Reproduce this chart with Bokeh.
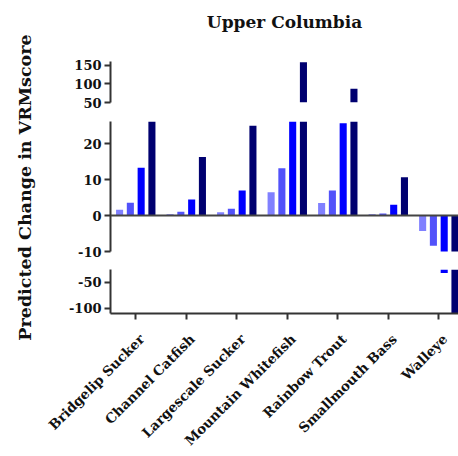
import numpy as np
from math import pi
from bokeh.plotting import figure
from bokeh.layouts import row, column
from bokeh.models import Range1d, FixedTicker, Span
from bokeh.core.properties import value
from bokeh.embed import file_html
from bokeh.resources import INLINE

# ---- data ----
categories = ["Bridgelip Sucker", "Channel Catfish", "Largescale Sucker",
              "Mountain Whitefish", "Rainbow Trout", "Smallmouth Bass", "Walleye"]
series1 = [1.6, 0.4, 0.9, 6.5, 3.5, 0.4, -4.3]
series2 = [3.6, 1.1, 1.9, 13.2, 7.0, 0.6, -8.4]
series3 = [13.3, 4.5, 7.0, 27.0, 25.7, 3.0, -32.0]
series4 = [27.0, 16.3, 25.0, 158.0, 87.0, 10.7, -110.0]
top_ticks = [50, 100, 150]
mid_ticks = [-10, 0, 10, 20]
bot_ticks = [-50, -100]
title_text = "Upper Columbia"
ylabel_text = "Predicted Change in VRMscore"

colors = ["#8080ff", "#5252fa", "#0000ff", "#000070"]
offsets = [-0.32, -0.107, 0.107, 0.32]
bar_w = 0.14
FONT = "DejaVu Serif"
AX = "#333333"

xs = np.arange(len(categories))
X0, X1 = -0.5, 6.39
x_range = Range1d(X0, X1)
LABW = 40           # width of the y-label strip
PW = 418            # width of the plot column
LEFT = 70           # left border inside plots
FRAME_W = PW - LEFT
ppu = FRAME_W / (X1 - X0)   # pixels per category unit
H = 456


def seg(height, yr, ticks, bt, bb, mode, xaxis=False):
    lo, hi = yr
    p = figure(width=PW, height=height, x_range=x_range, y_range=Range1d(lo, hi),
               output_backend="svg", toolbar_location=None,
               x_axis_location="below" if xaxis else None,
               min_border_left=LEFT, min_border_right=0,
               min_border_top=bt, min_border_bottom=bb)
    p.outline_line_color = None
    p.grid.visible = False
    for vals, off, c in zip([series1, series2, series3, series4], offsets, colors):
        v = np.array(vals, dtype=float)
        if mode == "top":
            m = v > lo
            p.vbar(x=(xs + off)[m], top=v[m], bottom=lo, width=bar_w,
                   fill_color=c, line_color=None)
        elif mode == "bottom":
            m = v < hi
            p.vbar(x=(xs + off)[m], top=hi, bottom=v[m], width=bar_w,
                   fill_color=c, line_color=None)
        else:
            p.vbar(x=xs + off, top=v, bottom=0, width=bar_w,
                   fill_color=c, line_color=None)
    ya = p.yaxis[0]
    ya.ticker = FixedTicker(ticks=ticks)
    ya.major_label_overrides = {t: str(t) for t in ticks}
    ya.minor_tick_line_color = None
    ya.axis_line_width = 2
    ya.axis_line_color = AX
    ya.major_tick_line_width = 2
    ya.major_tick_line_color = AX
    ya.major_tick_out = 6
    ya.major_tick_in = 0
    ya.major_label_standoff = 3
    ya.major_label_text_font = FONT
    ya.major_label_text_font_style = "bold"
    ya.major_label_text_font_size = "13px"
    ya.major_label_text_color = "#111111"
    return p


def blank(w, h, xr, yr, left=0):
    f = figure(width=w, height=h, x_range=xr, y_range=yr,
               output_backend="svg", toolbar_location=None,
               x_axis_location=None, y_axis_location=None,
               min_border_left=left, min_border_right=0,
               min_border_top=0, min_border_bottom=0)
    f.outline_line_color = None
    f.grid.visible = False
    return f


# title strip
tfig = blank(PW, 42, x_range, Range1d(0, 42), left=LEFT)
tfig.text(x=[(X0 + X1) / 2], y=[21], text=[title_text],
          text_align="center", text_baseline="middle",
          text_font=value(FONT), text_font_style="bold",
          text_font_size="17px", text_color="#111111")

top = seg(69, (50, 160), top_ticks, 19, 9, "top")

mid = seg(149, (-10, 26.2), mid_ticks, 10, 9, "mid")
mid.add_layout(Span(location=0, dimension="width", line_color="#444444", line_width=2))

bot = seg(61, (-110, -25), bot_ticks, 9, 8, "bottom", xaxis=True)
xa = bot.xaxis[0]
xa.ticker = FixedTicker(ticks=list(xs))
xa.major_label_overrides = {int(i): "" for i in xs}
xa.major_label_text_font_size = "0px"
xa.major_label_standoff = 0
xa.minor_tick_line_color = None
xa.axis_line_width = 2
xa.axis_line_color = AX
xa.major_tick_line_width = 2
xa.major_tick_line_color = AX
xa.major_tick_out = 6
xa.major_tick_in = 0

UPPER_H = 42 + 69 + 149 + 61

# rotated category labels, on the same x scale as the bars
XL_H = H - UPPER_H
xl_range = Range1d(X0 - LEFT / ppu, X1)
xfig = blank(PW, XL_H, xl_range, Range1d(0, XL_H))
xfig.text(x=xs + 6 / ppu, y=[XL_H - 15] * len(categories), text=categories,
          angle=pi / 4, text_align="right", text_baseline="middle",
          text_font=value(FONT), text_font_style="bold",
          text_font_size="13.5px", text_color="#111111")

# y-axis title strip, full height
lab = blank(LABW, H, Range1d(0, LABW), Range1d(0, H))
lab.text(x=[24], y=[H - 187], text=[ylabel_text], angle=pi / 2,
         text_align="center", text_baseline="middle",
         text_font=value(FONT), text_font_style="bold",
         text_font_size="17.5px", text_color="#111111")

layout = row(lab, column(tfig, top, mid, bot, row(xfig)))
open("out.html", "w").write(file_html(layout, INLINE))
